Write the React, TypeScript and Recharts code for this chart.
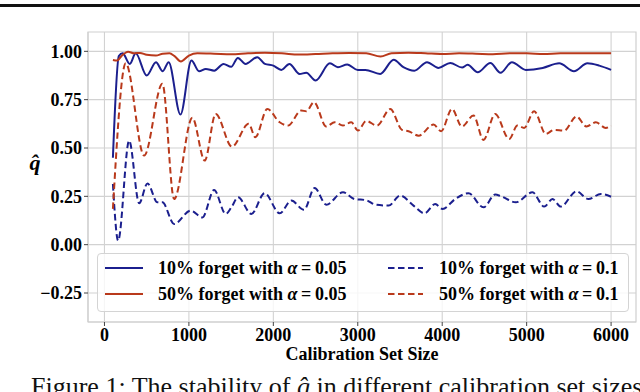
import { LineChart, Line, XAxis, YAxis, CartesianGrid, ReferenceArea, Legend } from "recharts";

const blue05X = [100, 170, 215, 300, 370, 500, 610, 690, 760, 900, 1030, 1120, 1200, 1300, 1410, 1500, 1580, 1670, 1810, 1900, 2000, 2095, 2190, 2310, 2390, 2500, 2670, 2765, 2875, 3000, 3090, 3265, 3425, 3540, 3670, 3820, 3955, 4095, 4235, 4300, 4420, 4570, 4690, 4825, 4990, 5190, 5385, 5560, 5720, 5860, 6000];
const blue05Y = [0.45, 0.975, 0.99, 0.935, 0.99, 0.875, 0.944, 0.897, 0.944, 0.673, 0.952, 0.897, 0.909, 0.9, 0.935, 0.92, 0.966, 0.935, 0.97, 0.935, 0.926, 0.904, 0.935, 0.883, 0.889, 0.849, 0.938, 0.918, 0.932, 0.904, 0.904, 0.883, 0.956, 0.918, 0.9, 0.944, 0.914, 0.94, 0.916, 0.93, 0.892, 0.94, 0.889, 0.944, 0.904, 0.914, 0.938, 0.897, 0.938, 0.926, 0.904];

const red05X = [100, 150, 200, 280, 350, 420, 500, 610, 690, 770, 830, 905, 1000, 1100, 1300, 1500, 1700, 1900, 2100, 2300, 2500, 2700, 2900, 3100, 3270, 3400, 3600, 3800, 4000, 4200, 4400, 4600, 4800, 5000, 5200, 5400, 5600, 5800, 6000];
const red05Y = [0.955, 0.952, 0.975, 0.998, 0.99, 0.992, 0.982, 0.978, 0.988, 0.99, 0.975, 0.948, 0.978, 0.99, 0.988, 0.985, 0.99, 0.993, 0.99, 0.983, 0.986, 0.99, 0.992, 0.99, 0.973, 0.99, 0.993, 0.99, 0.986, 0.99, 0.988, 0.985, 0.99, 0.99, 0.986, 0.99, 0.99, 0.99, 0.99];

const blue10X = [100, 162, 292, 411, 509, 627, 686, 825, 1021, 1160, 1298, 1436, 1503, 1582, 1740, 1897, 2075, 2213, 2363, 2489, 2627, 2825, 2962, 3100, 3207, 3365, 3503, 3660, 3791, 3917, 4004, 4154, 4311, 4489, 4627, 4700, 4872, 5069, 5207, 5306, 5404, 5590, 5731, 5878, 6000];
const blue10Y = [0.314, 0.021, 0.538, 0.214, 0.317, 0.219, 0.219, 0.107, 0.176, 0.141, 0.283, 0.159, 0.193, 0.245, 0.159, 0.266, 0.162, 0.228, 0.18, 0.293, 0.207, 0.271, 0.236, 0.23, 0.207, 0.202, 0.254, 0.202, 0.162, 0.21, 0.185, 0.236, 0.266, 0.193, 0.259, 0.25, 0.219, 0.271, 0.197, 0.236, 0.197, 0.276, 0.236, 0.262, 0.248];

const red10X = [100, 252, 470, 686, 825, 1041, 1187, 1317, 1510, 1708, 1787, 1929, 2075, 2174, 2331, 2391, 2481, 2627, 2726, 2825, 2923, 3002, 3100, 3227, 3385, 3523, 3601, 3720, 3897, 3988, 4115, 4233, 4370, 4489, 4627, 4793, 4891, 4970, 5089, 5227, 5325, 5444, 5590, 5708, 5819, 5937, 6000];
const red10Y = [0.185, 0.938, 0.461, 0.832, 0.236, 0.656, 0.435, 0.676, 0.507, 0.625, 0.556, 0.702, 0.633, 0.616, 0.694, 0.69, 0.737, 0.611, 0.633, 0.616, 0.633, 0.59, 0.64, 0.616, 0.702, 0.594, 0.587, 0.564, 0.621, 0.587, 0.702, 0.611, 0.668, 0.542, 0.676, 0.547, 0.616, 0.604, 0.69, 0.573, 0.594, 0.59, 0.663, 0.611, 0.633, 0.604, 0.616];

const xTicks = [0, 1000, 2000, 3000, 4000, 5000, 6000];
const yTicks = [-0.25, 0, 0.25, 0.5, 0.75, 1.0];

const forgetPcts = ["10%", "50%"];
const alphas = ["0.05", "0.1"];

const zip = (xs: number[], ys: number[]) => xs.map((x, i) => ({ x, q: ys[i] }));

const BLUE = "#1b1f8e";
const RED = "#b9391b";
const SERIF = '"Liberation Serif", "Times New Roman", serif';
const FS = 18;

const series = [
  { key: "b05", data: zip(blue05X, blue05Y), color: BLUE, dash: undefined, pct: forgetPcts[0], alpha: alphas[0] },
  { key: "r05", data: zip(red05X, red05Y), color: RED, dash: undefined, pct: forgetPcts[1], alpha: alphas[0] },
  { key: "b10", data: zip(blue10X, blue10Y), color: BLUE, dash: "6.5 3.5", pct: forgetPcts[0], alpha: alphas[1] },
  { key: "r10", data: zip(red10X, red10Y), color: RED, dash: "6.5 3.5", pct: forgetPcts[1], alpha: alphas[1] },
];

const fmtY = (v: number) => (v < 0 ? "\u2212" + Math.abs(v).toFixed(2) : v.toFixed(2));

const QLabel = ({ viewBox }: any) => (
  <text
    x={viewBox.x + 35}
    y={viewBox.y + viewBox.height / 2 - 7}
    textAnchor="middle"
    fontFamily={SERIF}
    fontSize={22}
    fontWeight="bold"
    fontStyle="italic"
    fill="#000"
  >
    {"q\u0302"}
  </text>
);

const renderLegend = () => (
  <div
    style={{
      position: "relative",
      width: "100%",
      height: "100%",
      boxSizing: "border-box",
      border: "1px solid #d4d4d4",
      borderRadius: 4,
      background: "rgba(255,255,255,0.8)",
      fontFamily: SERIF,
      fontWeight: "bold",
      fontSize: FS,
      color: "#000",
    }}
  >
    {series.map((s, i) => {
      const col = i < 2 ? 0 : 1;
      const row = i % 2;
      const top = row === 0 ? 14 : 40;
      return (
        <div key={s.key}>
          <svg
            width={40}
            height={4}
            style={{ position: "absolute", left: col === 0 ? 6 : 289, top: top - 2 }}
          >
            <line x1={1} y1={2} x2={col === 0 ? 39 : 36} y2={2} stroke={s.color} strokeWidth={2} strokeDasharray={s.dash} />
          </svg>
          <span
            style={{
              position: "absolute",
              left: col === 0 ? 60 : 341,
              top: top - 11,
              lineHeight: "22px",
              whiteSpace: "nowrap",
            }}
          >
            {s.pct} forget with <i>{"\u03b1"}</i>{"\u2009=\u2009"}{s.alpha}
          </span>
        </div>
      );
    })}
  </div>
);

export default function App() {
  return (
    <div style={{ position: "fixed", left: 0, top: 0, width: 640, height: 392, background: "#fff", overflow: "hidden" }}>
      <div style={{ position: "absolute", left: 0, top: 4, width: 640, height: 3, background: "#111" }} />
      <LineChart width={640} height={392} margin={{ top: 32, right: 4, bottom: 48, left: 0 }}>
        <CartesianGrid stroke="#d2d2d2" strokeWidth={1.1} horizontalValues={yTicks} verticalValues={xTicks} />
        <ReferenceArea x1={-195} x2={6295} y1={-0.4} y2={1.1} fill="none" stroke="#cfcfcf" strokeWidth={1.2} />
        <XAxis
          type="number"
          dataKey="x"
          domain={[-195, 6295]}
          allowDataOverflow
          ticks={xTicks}
          height={22}
          tickSize={4}
          tickMargin={2}
          axisLine={{ stroke: "#cfcfcf" }}
          tickLine={{ stroke: "#444" }}
          tick={{ fontFamily: SERIF, fontSize: FS, fontWeight: "bold", fill: "#000" }}
          label={{ value: "Calibration Set Size", position: "bottom", offset: 3, fontFamily: SERIF, fontSize: FS, fontWeight: "bold", fill: "#000" }}
        />
        <YAxis
          type="number"
          domain={[-0.4, 1.1]}
          allowDataOverflow
          ticks={yTicks}
          width={88}
          tickSize={4}
          tickMargin={2}
          tickFormatter={fmtY}
          axisLine={{ stroke: "#cfcfcf" }}
          tickLine={{ stroke: "#444" }}
          tick={{ fontFamily: SERIF, fontSize: FS, fontWeight: "bold", fill: "#000" }}
          label={QLabel}
        />
        {series.map((s) => (
          <Line
            key={s.key}
            data={s.data}
            dataKey="q"
            type="monotone"
            stroke={s.color}
            strokeWidth={2}
            strokeDasharray={s.dash}
            dot={false}
            activeDot={false}
            isAnimationActive={false}
          />
        ))}
        <Legend
          content={renderLegend}
          layout="horizontal"
          verticalAlign="middle"
          align="center"
          wrapperStyle={{ left: 97, top: 253, width: 532, height: 59, margin: 0 }}
        />
      </LineChart>
      <div
        style={{
          position: "absolute",
          left: 31,
          top: 374,
          fontFamily: SERIF,
          fontSize: 26,
          lineHeight: "26px",
          whiteSpace: "nowrap",
          color: "#111",
        }}
      >
        Figure 1: The stability of <i>{"q\u0302"}</i> in different calibration set sizes
      </div>
    </div>
  );
}
